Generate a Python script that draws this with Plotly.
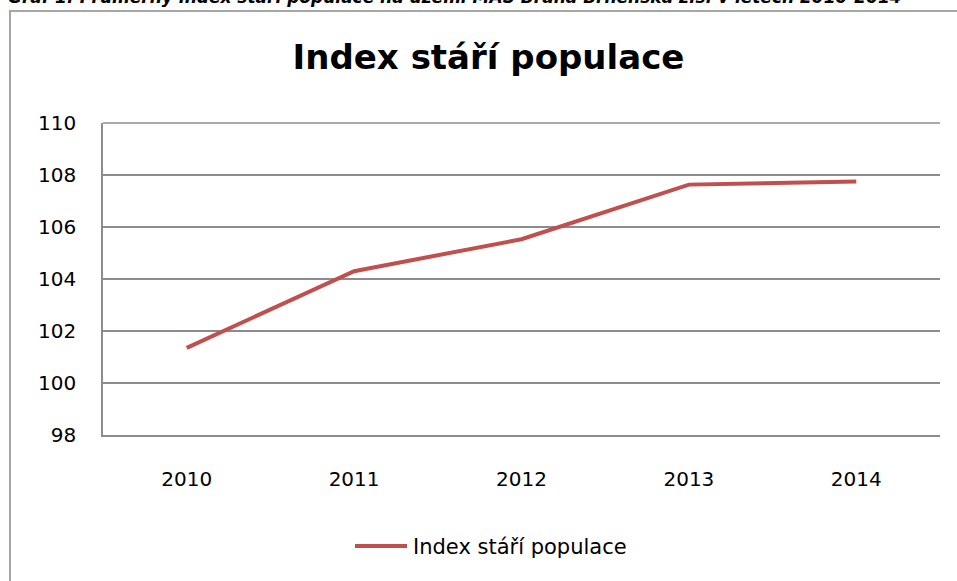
import plotly.graph_objects as go

years = ["2010", "2011", "2012", "2013", "2014"]
index_values = [101.35, 104.3, 105.53, 107.63, 107.75]
series_name = "Index stáří populace"
chart_title = "Index stáří populace"
caption = "Graf 1: Průměrný index stáří populace na území MAS Brána Brněnska z.s. v letech 2010-2014"
y_ticks = [98, 100, 102, 104, 106, 108, 110]

W, H = 957, 581
L, R, T, B = 103, 940, 123, 435  # plot area in pixels
LINE_COLOR = "#C0504D"
GRID = "#8C8C8C"


def px_x(p):
    return (p - L) / (R - L)


def px_y(p):
    return (B - p) / (B - T)


fig = go.Figure()
fig.add_trace(go.Scatter(
    x=years, y=index_values, mode="lines", name=series_name,
    line=dict(color=LINE_COLOR, width=4), showlegend=False,
))

# outer chart frame
fig.add_shape(type="rect", xref="paper", yref="paper",
              x0=px_x(10), x1=px_x(965), y0=px_y(595), y1=px_y(11),
              line=dict(color="#A6A6A6", width=2), layer="below")

# caption (cut at the top edge as in the reference)
fig.add_annotation(text="<b><i>" + caption + "</i></b>", xref="paper", yref="paper",
                   x=px_x(6), y=px_y(-3), xanchor="left", yanchor="middle",
                   showarrow=False, font=dict(family="DejaVu Sans", size=17, color="#000000"))

# legend (custom, to match the long line sample)
fig.add_shape(type="line", xref="paper", yref="paper",
              x0=px_x(355), x1=px_x(407), y0=px_y(546), y1=px_y(546),
              line=dict(color=LINE_COLOR, width=4))
fig.add_annotation(text=series_name, xref="paper", yref="paper",
                   x=px_x(411), y=px_y(547), xanchor="left", yanchor="middle",
                   showarrow=False, font=dict(family="DejaVu Sans", size=21, color="#000000"))

fig.update_layout(
    width=W, height=H,
    margin=dict(l=L, r=W - R, t=T, b=H - B, pad=0),
    paper_bgcolor="white", plot_bgcolor="white",
    title=dict(text="<b>" + chart_title + "</b>", xref="container", x=488.5 / W, xanchor="center",
               y=1 - 57 / H, yanchor="middle",
               font=dict(family="DejaVu Sans", size=34, color="#000000")),
    showlegend=False,
    xaxis=dict(type="category", range=[-0.5, 4.5], showgrid=False,
               showline=True, linecolor=GRID, linewidth=1.5,
               ticks="", ticklabelstandoff=25,
               tickfont=dict(family="DejaVu Sans", size=20, color="#000000")),
    yaxis=dict(range=[98, 110], tickvals=y_ticks, showgrid=True,
               gridcolor=GRID, gridwidth=1.5, zeroline=False,
               showline=True, linecolor=GRID, linewidth=1.5,
               ticks="", ticklabelstandoff=21,
               tickfont=dict(family="DejaVu Sans", size=20, color="#000000")),
)
fig.add_shape(type="line", xref="paper", yref="paper", x0=0, x1=1, y0=1, y1=1,
              line=dict(color=GRID, width=1.5))

fig.write_html("out.html", config={"displayModeBar": False},
               post_script="document.body.style.margin='0px';")
